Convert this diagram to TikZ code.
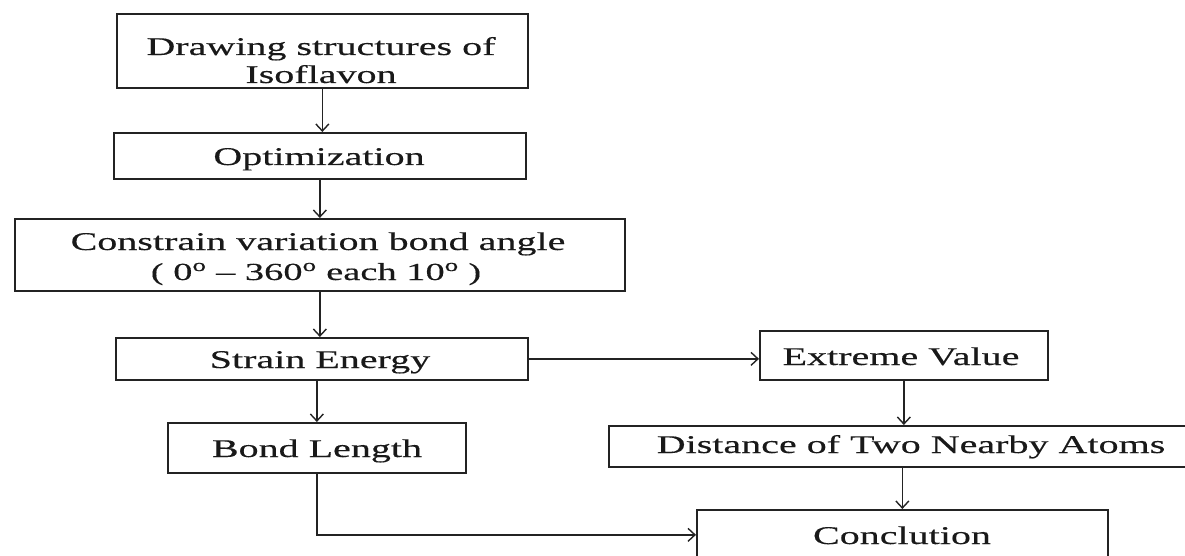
\documentclass[tikz,border=0pt]{standalone}
\usepackage{fontspec}
\setmainfont{Liberation Serif}[FakeStretch=1.57,FakeBold=0.35]
\usetikzlibrary{arrows.meta}
\definecolor{ln}{RGB}{35,35,35}
\definecolor{tx}{RGB}{25,25,25}
\tikzset{
  box/.style={draw=ln, line width=1.7pt, inner sep=0pt, anchor=north west, rectangle},
  txt/.style={anchor=base, inner sep=0pt, font=\fontsize{25.5}{28}\selectfont, text=tx, text height=18pt, text depth=2pt},
  conn/.style={draw=ln, line width=1.7pt, -{Straight Barb[length=7pt,width=13pt,line width=1.4pt]}},
}
\begin{document}
\begin{tikzpicture}[x=1pt,y=-1pt]
\useasboundingbox (0,0) rectangle (1185,556);
\clip (0,0) rectangle (1185,556);
% boxes
\node[box, minimum width=411pt, minimum height=74pt] (b1) at (116,13) {};
\node[box, minimum width=412pt, minimum height=46pt] (b2) at (113,132) {};
\node[box, minimum width=610pt, minimum height=72pt] (b3) at (14,218) {};
\node[box, minimum width=412pt, minimum height=42pt] (b4) at (115,337) {};
\node[box, minimum width=298pt, minimum height=50pt] (b5) at (167,422) {};
\node[box, minimum width=288pt, minimum height=49pt] (b6) at (759,330) {};
\node[box, minimum width=614pt, minimum height=41pt] (b7) at (608,425) {};
\node[box, minimum width=411pt, minimum height=50pt] (b8) at (696,509) {};
% texts
\node[txt] (t1a) at (321,55) {Drawing structures of};
\node[txt] (t1b) at (321,83) {Isoflavon};
\node[txt] (t2) at (319,165) {Optimization};
\node[txt] (t3a) at (318,250) {Constrain variation bond angle};
\node[txt, font=\fontsize{24.5}{27}\selectfont, text height=16pt] (t3b) at (316,280) {( 0\textsuperscript{o} – 360\textsuperscript{o} each 10\textsuperscript{o} )};
\node[txt] (t4) at (320,368) {Strain Energy};
\node[txt] (t5) at (317,457) {Bond Length};
\node[txt] (t6) at (901,365) {Extreme Value};
\node[txt] (t7) at (911,453) {Distance of Two Nearby Atoms};
\node[txt] (t8) at (902,544) {Conclution};
% connectors
\draw[conn] (b1.south) -- (b1.south |- b2.north);
\draw[conn] (b2.south) -- (b2.south |- b3.north);
\draw[conn] (b3.south) -- (b3.south |- b4.north);
\draw[conn] (b5.north |- b4.south) -- (b5.north);
\draw[conn] (b4.east) -- (b4.east -| b6.west);
\draw[conn] (b6.south) -- (b6.south |- b7.north);
\draw[conn] (b8.north |- b7.south) -- (b8.north);
\draw[conn] (b5.south) |- (b8.west);
\end{tikzpicture}
\end{document}
